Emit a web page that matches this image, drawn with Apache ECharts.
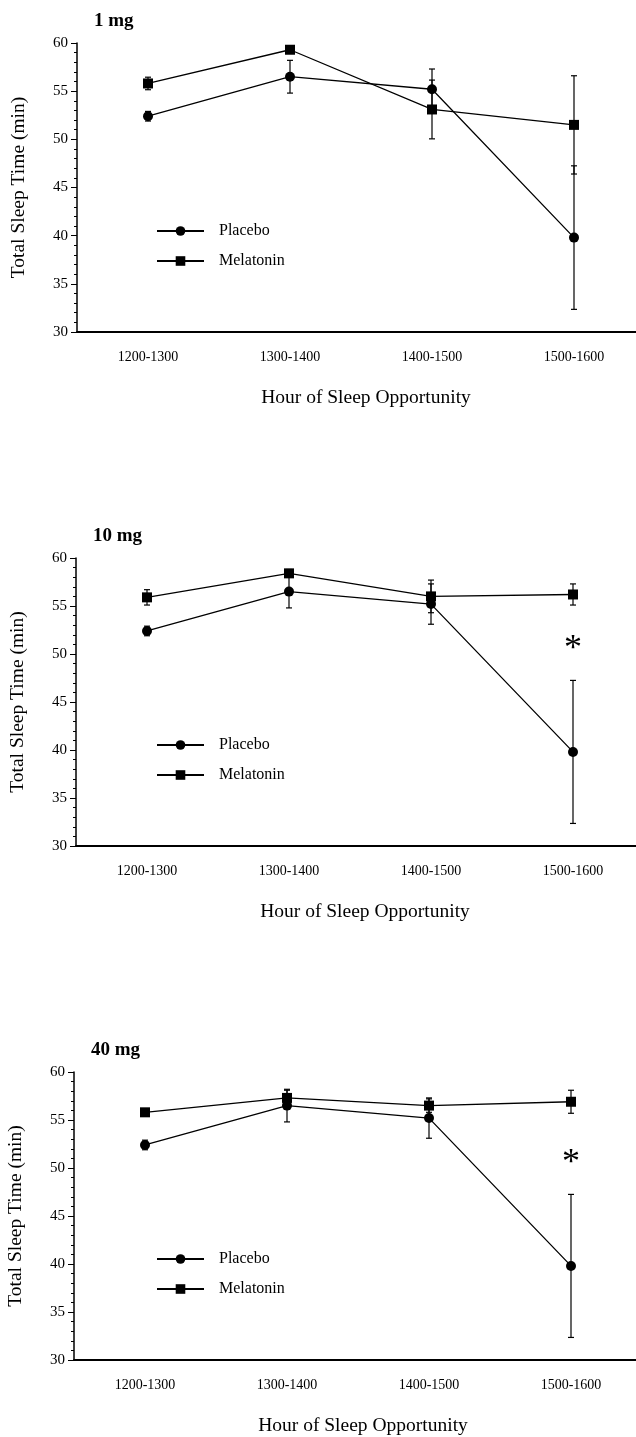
<!DOCTYPE html>
<html><head><meta charset="utf-8">
<script src="https://cdn.jsdelivr.net/npm/echarts@6/dist/echarts.min.js"></script>
<style>html,body{margin:0;padding:0;background:#fff}#c{width:636px;height:1437px}</style>
</head><body><div id="c"></div>
<script>
const categories = ['1200-1300', '1300-1400', '1400-1500', '1500-1600'];
const panelTitles = ['1 mg', '10 mg', '40 mg'];
const placebo = [52.4, 56.5, 55.2, 39.8];
const placeboErr = [0.5, 1.7, 2.1, 7.45];
const mel1 = [55.8, 59.3, 53.1, 51.5];
const mel1Err = [0.65, 0.3, 3.05, 5.1];
const mel10 = [55.9, 58.4, 56.0, 56.2];
const mel10Err = [0.8, 0.4, 1.7, 1.1];
const mel40 = [55.8, 57.3, 56.5, 56.9];
const mel40Err = [0.3, 0.8, 0.7, 1.2];
const asteriskY = [null, 50.5, 50.5];
const yTicks = [30, 35, 40, 45, 50, 55, 60];

const melSets = [mel1, mel10, mel40];
const melErrs = [mel1Err, mel10Err, mel40Err];
const FONT = '"Liberation Serif", "Times New Roman", serif';

const gridDefs = [
  {left: 77, top: 43, height: 289},
  {left: 76, top: 558, height: 288},
  {left: 74, top: 1072, height: 288}
];
const legendTops = [218, 732, 1246];

function errData(vals, errs) {
  return vals.map((v, i) => [i, v - errs[i], v + errs[i]]);
}
function renderErr(params, api) {
  const x = api.value(0);
  const lo = api.coord([x, api.value(1)]);
  const hi = api.coord([x, api.value(2)]);
  const w = 3;
  const st = {stroke: '#000', lineWidth: 1.2, fill: null};
  return {type: 'group', children: [
    {type: 'line', shape: {x1: lo[0], y1: lo[1], x2: hi[0], y2: hi[1]}, style: st},
    {type: 'line', shape: {x1: lo[0] - w, y1: lo[1], x2: lo[0] + w, y2: lo[1]}, style: st},
    {type: 'line', shape: {x1: hi[0] - w, y1: hi[1], x2: hi[0] + w, y2: hi[1]}, style: st}
  ]};
}

const grids = [], xAxes = [], yAxes = [], series = [], titles = [], legends = [];
gridDefs.forEach((g, k) => {
  grids.push({left: g.left, top: g.top, height: g.height, width: 568, outerBoundsMode: 'none', containLabel: false});
  titles.push({text: panelTitles[k], left: g.left + 12, top: g.top - 36,
    textStyle: {fontFamily: FONT, fontSize: 19, fontWeight: 'bold', color: '#000'}});
  xAxes.push({type: 'category', gridIndex: k, data: categories, boundaryGap: true,
    name: 'Hour of Sleep Opportunity', nameLocation: 'middle', nameGap: 56,
    nameTextStyle: {fontFamily: FONT, fontSize: 19.5, color: '#000', padding: [0, 0, 0, 10]},
    axisLine: {lineStyle: {color: '#000', width: 1.8}},
    axisTick: {alignWithLabel: true, length: 5, lineStyle: {color: '#000'}},
    axisLabel: {fontFamily: FONT, fontSize: 14, color: '#000', margin: 18},
    splitLine: {show: false}});
  yAxes.push({type: 'value', gridIndex: k, min: yTicks[0], max: yTicks[yTicks.length - 1], interval: 5,
    name: 'Total Sleep Time (min)', nameLocation: 'middle', nameGap: 48,
    nameTextStyle: {fontFamily: FONT, fontSize: 19.5, color: '#000'},
    axisLine: {show: true, lineStyle: {color: '#000', width: 1.5}},
    axisTick: {show: true, length: 6, lineStyle: {color: '#000'}},
    minorTick: {show: true, splitNumber: 5, length: 3, lineStyle: {color: '#000'}},
    axisLabel: {fontFamily: FONT, fontSize: 15, color: '#000', margin: 9},
    splitLine: {show: false}});
  const mel = melSets[k];
  const melSeries = {name: 'Melatonin', type: 'line', xAxisIndex: k, yAxisIndex: k, data: mel,
    symbol: 'rect', symbolSize: 10, showAllSymbol: true,
    lineStyle: {color: '#000', width: 1.3}, itemStyle: {color: '#000'}, z: 3};
  if (asteriskY[k] !== null) {
    melSeries.markPoint = {symbol: 'circle', symbolSize: 0,
      label: {show: true, formatter: '*', fontFamily: FONT, fontSize: 36, color: '#000'},
      data: [{coord: [categories[3], asteriskY[k]]}]};
  }
  series.push(
    {name: 'Placebo', type: 'line', xAxisIndex: k, yAxisIndex: k, data: placebo,
      symbol: 'circle', symbolSize: 10, lineStyle: {color: '#000', width: 1.3}, itemStyle: {color: '#000'}, z: 3},
    melSeries,
    {name: 'Placebo SEM', type: 'custom', xAxisIndex: k, yAxisIndex: k, data: errData(placebo, placeboErr), renderItem: renderErr, z: 2},
    {name: 'Melatonin SEM', type: 'custom', xAxisIndex: k, yAxisIndex: k, data: errData(mel, melErrs[k]), renderItem: renderErr, z: 2}
  );
  legends.push({data: ['Placebo', 'Melatonin'], orient: 'vertical', left: 151, top: legendTops[k],
    itemWidth: 47, itemHeight: 12, itemGap: 14, selectedMode: false,
    textStyle: {fontFamily: FONT, fontSize: 16, color: '#000', padding: [0, 0, 0, 10]}});
});

const chart = echarts.init(document.getElementById('c'), null, {renderer: 'canvas'});
chart.setOption({animation: false, backgroundColor: '#fff', title: titles, legend: legends,
  grid: grids, xAxis: xAxes, yAxis: yAxes, series: series});
</script></body></html>
